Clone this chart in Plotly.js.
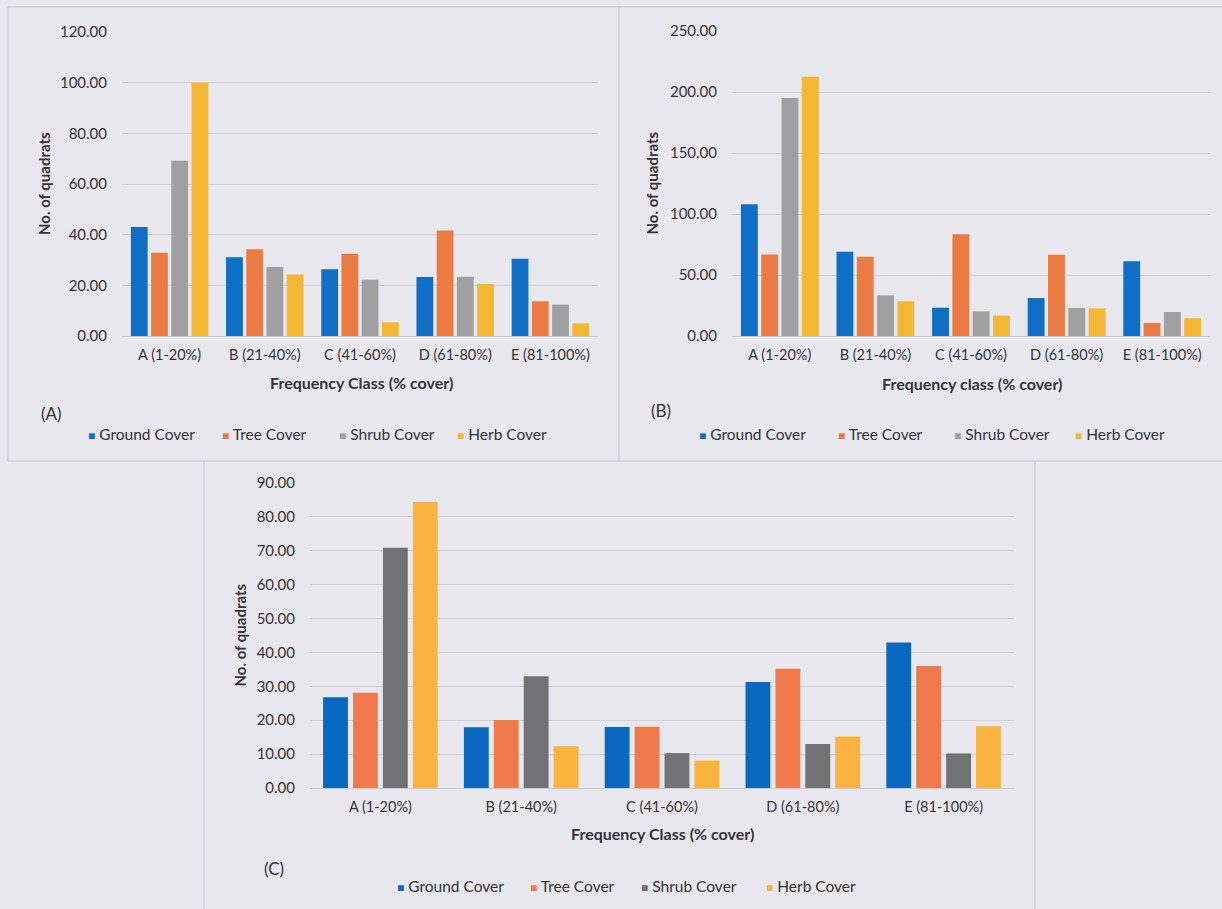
<!DOCTYPE html>
<html>
<head>
<meta charset="utf-8">
<script src="https://cdn.plot.ly/plotly-3.0.1.min.js"></script>
<style>
  html, body { margin: 0; padding: 0; background: #e8e8ee; }
  #chart { width: 1222px; height: 909px; }
</style>
</head>
<body>
<div id="chart"></div>
<script>
// Frequency classes shared by all three panels
const categories = ['A (1-20%)', 'B (21-40%)', 'C (41-60%)', 'D (61-80%)', 'E (81-100%)'];
const seriesNames = ['Ground Cover', 'Tree Cover', 'Shrub Cover', 'Herb Cover'];

// Panel (A)
const groundA = [43.0, 31.1, 26.3, 23.3, 30.5];
const treeA   = [32.9, 34.2, 32.5, 41.6, 13.7];
const shrubA  = [69.2, 27.2, 22.2, 23.4, 12.4];
const herbA   = [100.0, 24.3, 5.4, 20.5, 5.0];

// Panel (B)
const groundB = [107.9, 69.1, 23.2, 31.1, 61.2];
const treeB   = [66.9, 65.0, 83.3, 66.7, 10.7];
const shrubB  = [195.1, 33.3, 20.2, 23.0, 19.7];
const herbB   = [212.6, 28.4, 16.7, 22.7, 14.5];

// Panel (C)
const groundC = [26.8, 17.9, 18.0, 31.3, 42.9];
const treeC   = [28.1, 20.1, 18.1, 35.2, 36.0];
const shrubC  = [70.9, 33.0, 10.3, 13.0, 10.2];
const herbC   = [84.4, 12.3, 8.1, 15.2, 18.2];

const colorsAB = ['#0f6fc6', '#ec7a43', '#a0a0a2', '#f3b734'];
const colorsC  = ['#0a68c0', '#f07a4c', '#717274', '#f9b33e'];

const W = 1222, H = 909;
const px = x => x / W;
const py = y => 1 - y / H;

const FONT = 'Lato, "Open Sans", sans-serif';
const TXT = '#333338';

const panels = [
  { id: '',  series: [groundA, treeA, shrubA, herbA], colors: colorsAB,
    x0: 122, x1: 598, yTop: 32, yBot: 336, range: [0, 120], dtick: 20,
    xTitle: 'Frequency Class (% cover)', xTitleX: 361, xTitleY: 382,
    yTitleX: 44, label: '(A)', labelX: 51, labelY: 413,
    legendY: 434, legendX: [86, 220, 337, 455] },
  { id: '2', series: [groundB, treeB, shrubB, herbB], colors: colorsAB,
    x0: 732, x1: 1210, yTop: 31, yBot: 336, range: [0, 250], dtick: 50,
    xTitle: 'Frequency class (% cover)', xTitleX: 972, xTitleY: 383,
    yTitleX: 652, label: '(B)', labelX: 661, labelY: 410,
    legendY: 434, legendX: [697, 836, 952, 1073] },
  { id: '3', series: [groundC, treeC, shrubC, herbC], colors: colorsC,
    x0: 310, x1: 1014, yTop: 483, yBot: 788, range: [0, 90], dtick: 10,
    xTitle: 'Frequency Class (% cover)', xTitleX: 662, xTitleY: 833,
    yTitleX: 239, label: '(C)', labelX: 274, labelY: 868,
    legendY: 886, legendX: [395, 528, 639, 764] }
];

const traces = [];
const layout = {
  width: W, height: H,
  margin: { l: 0, r: 0, t: 0, b: 0 },
  paper_bgcolor: '#e8e8ee',
  plot_bgcolor: 'rgba(0,0,0,0)',
  barmode: 'group',
  bargap: 0.15,
  bargroupgap: 0.17,
  showlegend: false,
  font: { family: FONT, color: TXT, size: 14 },
  annotations: [],
  shapes: []
};

panels.forEach(p => {
  p.series.forEach((vals, i) => {
    traces.push({
      type: 'bar', name: seriesNames[i], x: categories, y: vals,
      xaxis: 'x' + p.id, yaxis: 'y' + p.id,
      marker: { color: p.colors[i], line: { width: 0 } },
      hoverinfo: 'name+y'
    });
  });

  layout['xaxis' + p.id] = {
    domain: [px(p.x0), px(p.x1)],
    anchor: 'y' + p.id,
    type: 'category',
    range: [-0.5, 4.5],
    showgrid: false, zeroline: false,
    showline: true, linecolor: '#c9c9d2', linewidth: 1,
    ticks: '', ticklabelstandoff: 6,
    tickfont: { family: FONT, size: 14.5, color: TXT },
    fixedrange: true
  };
  layout['yaxis' + p.id] = {
    domain: [py(p.yBot), py(p.yTop)],
    anchor: 'x' + p.id,
    range: p.range, dtick: p.dtick,
    tickformat: '.2f',
    showgrid: true, gridcolor: '#d2d2da', gridwidth: 1,
    zeroline: false, showline: false,
    ticks: '', ticklabelstandoff: 14,
    tickfont: { family: FONT, size: 15, color: TXT },
    fixedrange: true
  };

  // axis titles
  layout.annotations.push({
    xref: 'paper', yref: 'paper', x: px(p.xTitleX), y: py(p.xTitleY),
    xanchor: 'center', yanchor: 'middle', showarrow: false,
    text: '<b>' + p.xTitle + '</b>', font: { family: FONT, size: 16, color: TXT }
  });
  layout.annotations.push({
    xref: 'paper', yref: 'paper', x: px(p.yTitleX), y: py((p.yTop + p.yBot) / 2),
    xanchor: 'center', yanchor: 'middle', showarrow: false, textangle: -90,
    text: '<b>No. of quadrats</b>', font: { family: FONT, size: 15, color: TXT }
  });
  // panel label
  layout.annotations.push({
    xref: 'paper', yref: 'paper', x: px(p.labelX), y: py(p.labelY),
    xanchor: 'center', yanchor: 'middle', showarrow: false,
    text: p.label, font: { family: FONT, size: 17, color: TXT }
  });
  // legend entries
  seriesNames.forEach((name, i) => {
    layout.annotations.push({
      xref: 'paper', yref: 'paper', x: px(p.legendX[i]), y: py(p.legendY),
      xanchor: 'left', yanchor: 'middle', showarrow: false,
      text: '<span style="color:' + p.colors[i] + ';font-size:12px">■</span> ' + name,
      font: { family: FONT, size: 15.5, color: TXT }
    });
  });
});

// panel frames
const frame = '#c4c8d4';
const line = (x0, y0, x1, y1) => ({
  type: 'line', xref: 'paper', yref: 'paper',
  x0: px(x0), y0: py(y0), x1: px(x1), y1: py(y1),
  line: { color: frame, width: 1 }
});
layout.shapes.push(
  line(8, 7, 1222, 7),
  line(8, 7, 8, 461),
  line(619, 7, 619, 461),
  line(8, 461, 1222, 461),
  line(204, 461, 204, 909),
  line(1035, 461, 1035, 909)
);

Plotly.newPlot('chart', traces, layout, { displayModeBar: false, staticPlot: true });
</script>
</body>
</html>
